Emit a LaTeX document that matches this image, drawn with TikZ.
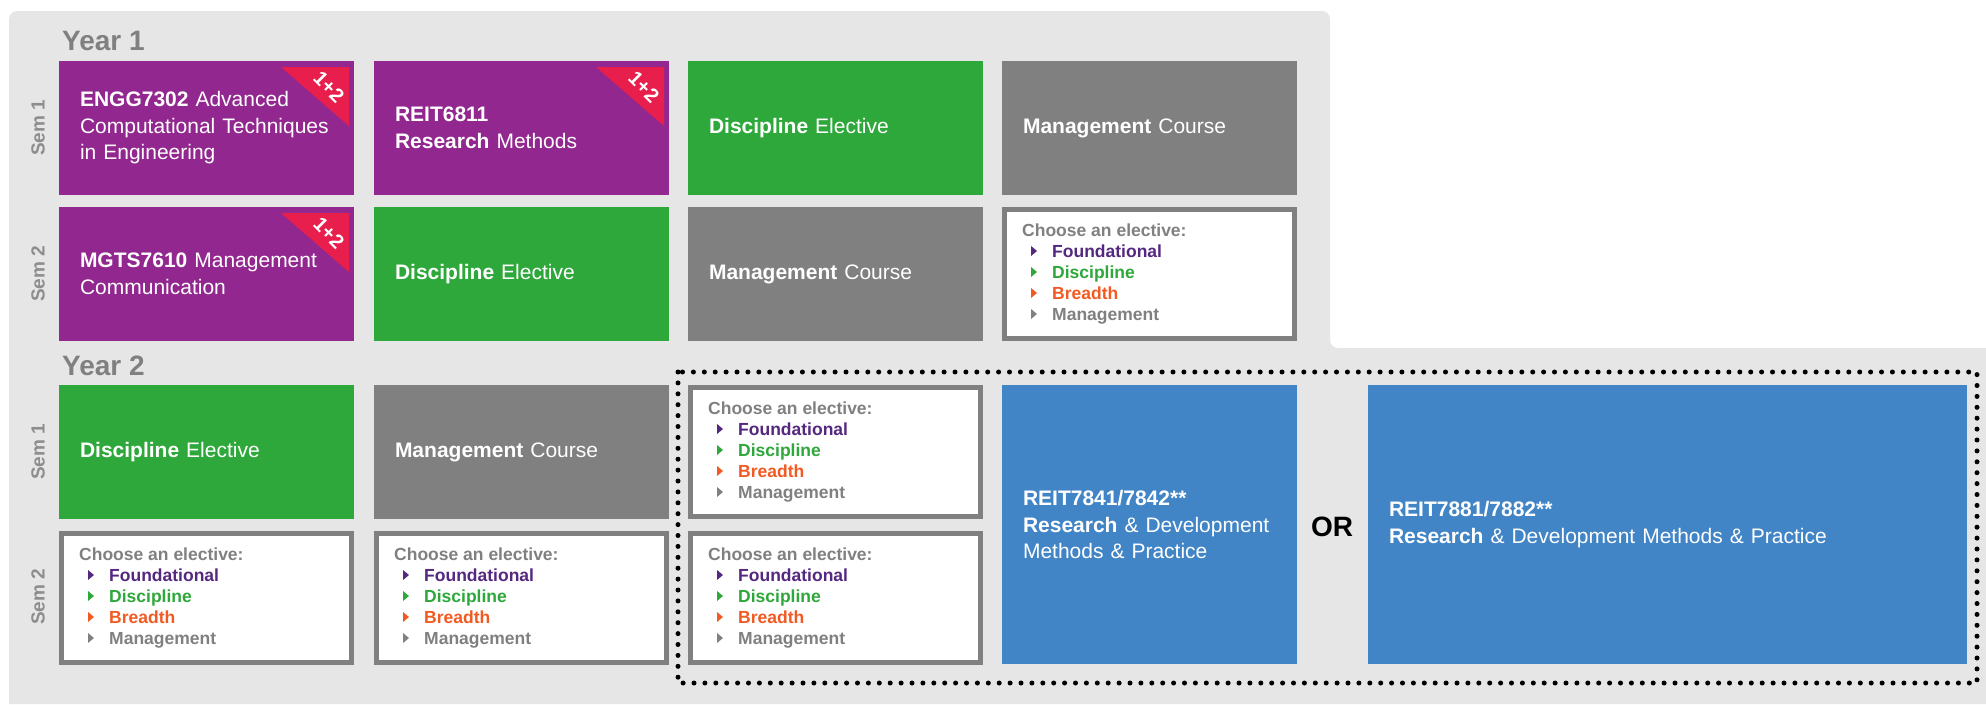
\documentclass[tikz,border=0pt]{standalone}
\usepackage{fontspec}
\setmainfont{Liberation Sans}
\definecolor{uqpurple}{HTML}{92278F}
\definecolor{uqgreen}{HTML}{2EA83A}
\definecolor{uqgrey}{HTML}{808080}
\definecolor{uqblue}{HTML}{4185C6}
\definecolor{bggrey}{HTML}{E6E6E6}
\definecolor{badgered}{HTML}{E81E4C}
\definecolor{fndpurple}{HTML}{55287F}
\definecolor{brorange}{HTML}{F15A22}

% elective box: name, left, top
\newcommand{\electivebox}[3]{%
  \node[elective] (#1) at (#2+2.5,#3+2.5) {};
  \node[choose] (#1-head) at (#2+20,#3+29) {Choose an elective:};
  \foreach \lbl/\itemcol [count=\i] in {Foundational/fndpurple,Discipline/uqgreen,Breadth/brorange,Management/uqgrey} {
    \fill[\itemcol] (#2+29,#3+18+21*\i) -- ++(0,10) -- ++(6,-5) -- cycle;
    \node[pick, text=\itemcol] (#1-\i) at (#2+50,#3+29+21*\i) {\lbl};
  }
}

\begin{document}
\begin{tikzpicture}[x=1pt, y=-1pt,
    course/.style={anchor=north west, minimum width=295pt, minimum height=134pt, inner xsep=21pt,
      text width=253pt, align=left, text=white, outer sep=0pt, font=\fontsize{21}{26.5}\selectfont},
    elective/.style={anchor=north west, draw=uqgrey, line width=5pt, fill=white, minimum width=290pt,
      minimum height=129pt, inner sep=0pt, outer sep=0pt},
    choose/.style={anchor=base west, inner sep=0pt, text=uqgrey, font=\bfseries\fontsize{17.5}{21}\selectfont},
    pick/.style={anchor=base west, inner sep=0pt, font=\bfseries\fontsize{17.5}{21}\selectfont},
    yearlbl/.style={anchor=base west, inner sep=0pt, text=uqgrey, font=\bfseries\fontsize{28}{28}\selectfont},
    semlbl/.style={rotate=90, inner sep=0pt, text=uqgrey!90, font=\bfseries\fontsize{19}{19}\selectfont},
    badgetxt/.style={rotate=-45, inner sep=0pt, text=white, font=\bfseries\fontsize{20}{20}\selectfont},
    dotframe/.style={line width=5pt, line cap=round, dash pattern=on 0pt off 10.9pt}]
  \useasboundingbox (0,0) rectangle (1986,704);
  % background
  \fill[bggrey] (9,704) {[rounded corners=8] -- (9,11) -- (1330,11) -- (1330,348)} -- (1986,348) -- (1986,704) -- cycle;
  \node[yearlbl] (year1) at (62,50) {Year 1};
  \node[yearlbl] (year2) at (62,375) {Year 2};
  \foreach \ypos/\t [count=\k] in {128/1,274/2,452/1,597/2}
    \node[semlbl] (sem\k) at (38,\ypos) {Sem \t};
  % year 1
  \node[course, fill=uqpurple] (engg) at (59,61) {\textbf{ENGG7302} Advanced\\Computational Techniques\\in Engineering};
  \node[course, fill=uqpurple] (reitsix) at (374,61) {\textbf{REIT6811}\\\textbf{Research} Methods};
  \node[course, fill=uqgreen] (discA) at (688,61) {\textbf{Discipline} Elective};
  \node[course, fill=uqgrey] (mgtA) at (1002,61) {\textbf{Management} Course};
  \node[course, fill=uqpurple] (mgts) at (59,207) {\textbf{MGTS7610} Management\\Communication};
  \node[course, fill=uqgreen] (discB) at (374,207) {\textbf{Discipline} Elective};
  \node[course, fill=uqgrey] (mgtB) at (688,207) {\textbf{Management} Course};
  \electivebox{electA}{1002}{207}
  \foreach \b in {engg,reitsix,mgts} {
    \fill[badgered] ([shift={(-73,6)}]\b.north east) -- ([shift={(-5,6)}]\b.north east) -- ([shift={(-5,65)}]\b.north east) -- cycle;
    \node[badgetxt] (\b-tag) at ([shift={(-25,26)}]\b.north east) {1+2};
  }
  % year 2
  \node[course, fill=uqgreen] (discC) at (59,385) {\textbf{Discipline} Elective};
  \node[course, fill=uqgrey] (mgtC) at (374,385) {\textbf{Management} Course};
  \electivebox{electB}{688}{385}
  \electivebox{electC}{59}{531}
  \electivebox{electD}{374}{531}
  \electivebox{electE}{688}{531}
  \node[course, fill=uqblue, minimum height=279pt] (rdpA) at (1002,385) {\textbf{REIT7841/7842**}\\\textbf{Research} \& Development\\Methods \& Practice};
  \node[font=\bfseries\fontsize{28}{28}\selectfont] (orlbl) at (1332,527) {OR};
  \node[course, fill=uqblue, minimum width=599pt, text width=557pt, minimum height=279pt] (rdpB) at (1368,385) {\textbf{REIT7881/7882**}\\\textbf{Research} \& Development Methods \& Practice};
  \draw[dotframe] (678,372) rectangle (1977,683);
\end{tikzpicture}
\end{document}
